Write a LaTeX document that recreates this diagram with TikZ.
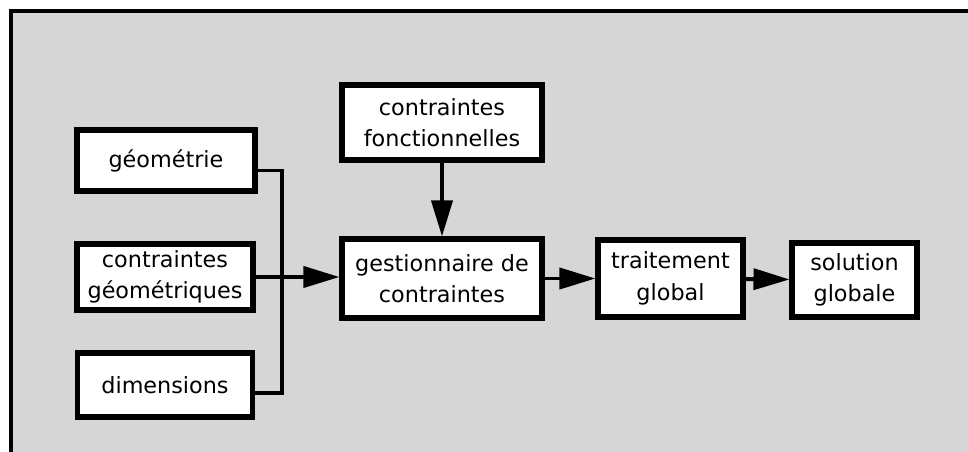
\documentclass[tikz,border=0pt]{standalone}
\usepackage{fontspec}
\setmainfont{DejaVu Sans}
\usetikzlibrary{arrows.meta}
\tikzset{boite/.style={draw,line width=2.9pt,fill=white,align=center,inner sep=0pt,
    font=\fontsize{12.7}{18}\selectfont},
  fleche/.style={line width=2.2pt,-{Triangle[length=0.72cm,width=0.42cm]}}}

\begin{document}
\begin{tikzpicture}[x=0.02cm,y=-0.02cm,join=miter] % Gestionnaire de contraintes
       \useasboundingbox (0,0) rectangle (968,452);
       \fill[black!16] (11,11) rectangle (968,452);
       \draw[line width=2.2pt] (11,452)--(11,11)--(968,11);
       \node[boite,minimum width=3.56cm,minimum height=1.22cm] (geo) at (166,160.5) {géométrie};
       \node[boite,minimum width=3.52cm,minimum height=1.32cm] (cgeo) at (165,277) {contraintes\\géométriques};
       \node[boite,minimum width=3.5cm,minimum height=1.28cm] (dim) at (165,385) {dimensions};
       \node[boite,minimum width=4cm,minimum height=1.5cm] (fonc) at (442,122.5) {contraintes\\fonctionnelles};
       \node[boite,minimum width=4cm,minimum height=1.58cm] (gest) at (442,278.5) {gestionnaire de\\contraintes};
       \node[boite,minimum width=2.9cm,minimum height=1.54cm] (trait) at (670.5,278.5) {traitement\\global};
       \node[boite,minimum width=2.5cm,minimum height=1.48cm] (sol) at (854.5,280) {solution\\globale};
       \coordinate (bus) at (282,278);
       \draw[line width=2.2pt] ([yshift=-0.2cm]geo.east) -| (bus);
       \draw[line width=2.2pt] ([yshift=-0.16cm]dim.east) -| (bus);
       \draw[fleche] (cgeo.east) -- (cgeo.east -| gest.west);
       \draw[fleche] (fonc) -- (gest);
       \draw[fleche] (gest) -- (trait);
       \draw[fleche] (trait) -- (sol);
   \end{tikzpicture}
\end{document}
